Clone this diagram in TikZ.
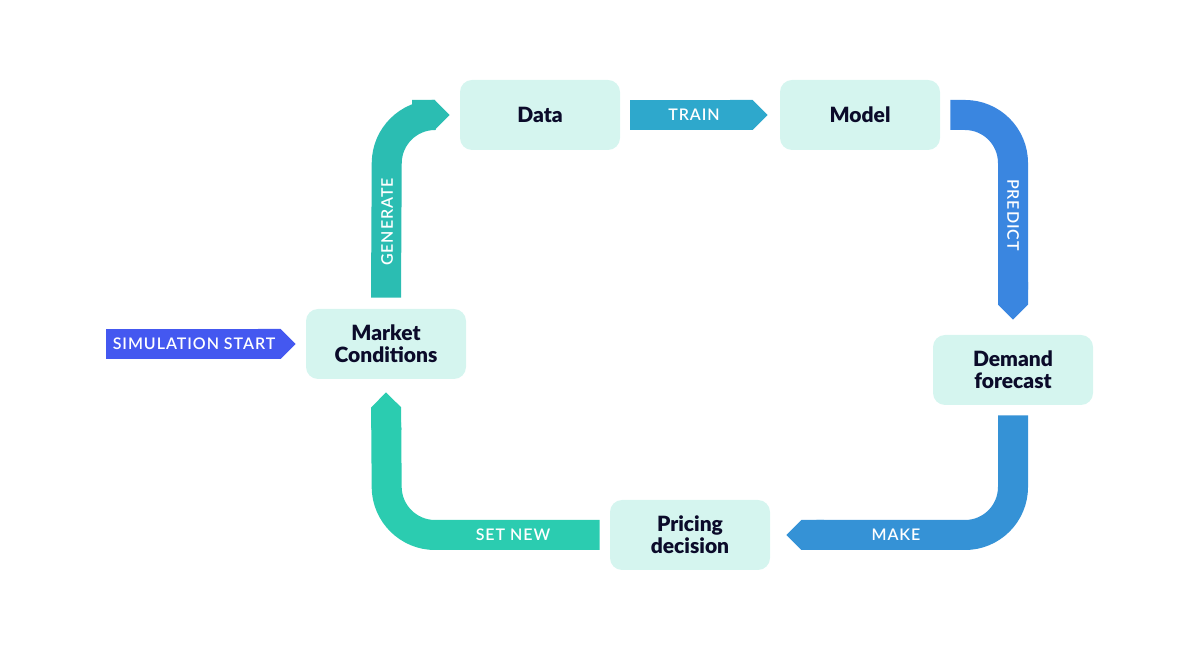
\documentclass[tikz,border=0pt]{standalone}
\usepackage{fontspec}
\setmainfont{Lato}
\newfontfamily\heavyfont{Lato Black}
\newfontfamily\tagfont{Lato Semibold}
\usetikzlibrary{arrows.meta,positioning,calc}
\definecolor{boxfill}{HTML}{D5F5EF}
\definecolor{startblue}{HTML}{4458F0}
\definecolor{trainblue}{HTML}{2EA8CC}
\definecolor{predblue}{HTML}{3A86E0}
\definecolor{makeblue}{HTML}{3592D6}
\definecolor{genteal}{HTML}{2BBDB2}
\definecolor{setgreen}{HTML}{2BCCB0}
\definecolor{txt}{HTML}{0B0B2A}
\tikzset{
    stage/.style={rectangle, rounded corners=6pt, fill=boxfill, minimum width=80pt, minimum height=35pt,
        align=center, inner sep=0pt, font=\fontsize{10.5}{11}\heavyfont, text=txt},
    body/.style={line width=15pt, rounded corners=24pt},
    band/.style={body, -{Triangle Cap[]}},
    tag/.style={text=white, font=\fontsize{8}{9}\tagfont\addfontfeature{LetterSpace=6}},
}
\begin{document}
\begin{tikzpicture}[x=0.5pt,y=-0.5pt]
    \useasboundingbox (0,0) rectangle (1200,651);
    % stages of the loop
    \node[stage] (data) at (540,115) {Data};
    \node[stage] (model) at (860,115) {Model};
    \node[stage] (market) at (386,344) {Market\\Conditions};
    \node[stage] (demand) at (1013,370) {Demand\\forecast};
    \node[stage] (pricing) at (690,535) {Pricing\\decision};
    % loose ends
    \coordinate (start) at (106,344);
    \coordinate (gencorner) at (387,115);
    \coordinate (genneck) at ($(data.west)+(-28,0)$);
    \coordinate (predcorner) at (1013,115);
    \coordinate (makecorner) at (1013,535);
    \coordinate (setcorner) at (387,535);
    % bands
    \draw[band, startblue] (start) -- ($(market.west)+(-10,0)$);
    \draw[body, genteal] ($(market.north)+(0,-11)$) -- (gencorner) -- (genneck);
    \draw[band, genteal] ($(genneck)+(-1,0)$) -- ($(data.west)+(-10,0)$);
    \draw[band, trainblue] ($(data.east)+(10,0)$) -- ($(model.west)+(-12,0)$);
    \draw[band, predblue] ($(model.east)+(10,0)$) -- (predcorner) -- ($(demand.north)+(0,-15)$);
    \draw[band, makeblue] ($(demand.south)+(0,10)$) -- (makecorner) -- ($(pricing.east)+(16,0)$);
    \draw[band, setgreen] ($(pricing.west)+(-10,0)$) -- (setcorner) -- ($(market.south)+(0,13)$);
    % labels
    \node[tag] at (194,344) {SIMULATION START};
    \node[tag, rotate=90] at (387,222) {GENERATE};
    \node[tag] at (694,115) {TRAIN};
    \node[tag, rotate=-90] at (1013,215) {PREDICT};
    \node[tag] at (896,535) {MAKE};
    \node[tag] at (513,535) {SET NEW};
\end{tikzpicture}
\end{document}
